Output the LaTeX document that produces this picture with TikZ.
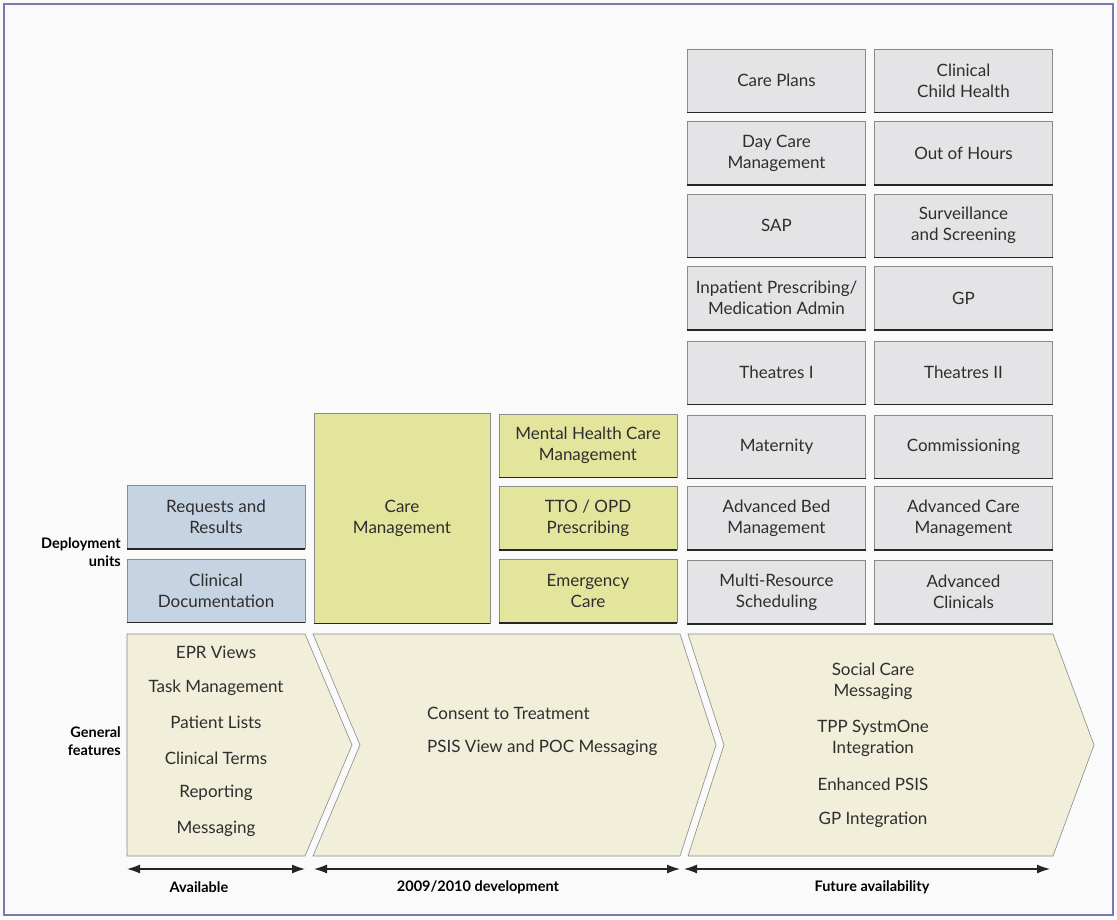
\documentclass[tikz,border=0pt]{standalone}
\usepackage{fontspec}
\setmainfont{Lato}
\usetikzlibrary{arrows.meta}
\definecolor{pagebg}{HTML}{FAFAFA}
\definecolor{framecol}{HTML}{7A78B0}
\definecolor{greyfill}{HTML}{E4E4E6}
\definecolor{bluefill}{HTML}{C6D3E3}
\definecolor{yellowfill}{HTML}{E3E59C}
\definecolor{creamfill}{HTML}{F1EEDA}
\definecolor{edgecol}{HTML}{8A8A8A}
\definecolor{inkcol}{HTML}{2E2E2E}
\begin{document}
\begin{tikzpicture}[x=1pt,y=-1pt,
  unitbox/.style={draw=edgecol, line width=0.7pt, minimum width=178pt, minimum height=63pt,
    inner sep=0pt, align=center, font=\fontsize{17}{21}\selectfont, text=inkcol},
  greybox/.style={unitbox, fill=greyfill},
  bluebox/.style={unitbox, fill=bluefill},
  yellowbox/.style={unitbox, fill=yellowfill},
  bottomedge/.style={draw=black!85, line width=1.6pt},
  chevron/.style={draw=edgecol, line width=0.6pt, fill=creamfill, line join=miter},
  feature/.style={font=\fontsize{17}{21}\selectfont, text=inkcol, align=center, inner sep=0pt},
  sidelabel/.style={font=\bfseries\fontsize{14.5}{18}\selectfont, align=right, anchor=east, inner sep=0pt},
  phaselabel/.style={font=\bfseries\fontsize{14.5}{16}\selectfont, inner sep=0pt},
  span/.style={{Latex[length=13pt,width=9pt]}-{Latex[length=13pt,width=9pt]}, line width=1.2pt, draw=black!85}
]
% page and frame
\fill[pagebg] (0,0) rectangle (1117,919);
\draw[framecol, line width=1.5pt] (4,4) rectangle (1113,915);

% future deployment units (grey grid)
\node[greybox] (careplans) at (776.5,80.5)  {Care Plans};
\node[greybox] (childhealth) at (963.5,80.5) {Clinical\\Child Health};
\node[greybox] (daycare) at (776.5,153)   {Day Care\\Management};
\node[greybox] (outofhours) at (963.5,153) {Out of Hours};
\node[greybox] (sap) at (776.5,225.5)      {SAP};
\node[greybox] (surveillance) at (963.5,225.5) {Surveillance\\and Screening};
\node[greybox] (inpatient) at (776.5,298)  {Inpatient Prescribing/\\Medication Admin};
\node[greybox] (gp) at (963.5,298)         {GP};
\node[greybox] (theatresone) at (776.5,372.5) {Theatres I};
\node[greybox] (theatrestwo) at (963.5,372.5) {Theatres II};
\node[greybox] (maternity) at (776.5,446.5) {Maternity};
\node[greybox] (commissioning) at (963.5,446.5) {Commissioning};
\node[greybox] (bedmgmt) at (776.5,518)   {Advanced Bed\\Management};
\node[greybox] (caremgmtadv) at (963.5,518) {Advanced Care\\Management};
\node[greybox] (multires) at (776.5,592)  {Multi-Resource\\Scheduling};
\node[greybox] (advclinicals) at (963.5,592) {Advanced\\Clinicals};

% 2009/2010 deployment units (yellow)
\node[yellowbox, minimum width=176pt, minimum height=210pt] (caremgmt) at (402,518) {Care\\Management};
\node[yellowbox] (mentalhealth) at (588,445.5) {Mental Health Care\\Management};
\node[yellowbox] (tto) at (588,518)        {TTO / OPD\\Prescribing};
\node[yellowbox] (emergency) at (588,591)  {Emergency\\Care};

% available deployment units (blue)
\node[bluebox] (requests) at (216,517)     {Requests and\\Results};
\node[bluebox] (clindoc) at (216,590.5)    {Clinical\\Documentation};

% darker lower edge of every unit box
\foreach \n in {careplans,childhealth,daycare,outofhours,sap,surveillance,inpatient,gp,
  theatresone,theatrestwo,maternity,commissioning,bedmgmt,caremgmtadv,multires,advclinicals,
  caremgmt,mentalhealth,tto,emergency,requests,clindoc}
  \draw[bottomedge] (\n.south west) -- (\n.south east);

% general features (chevrons)
\draw[chevron] (127,634) -- (305,634) -- (352,745) -- (305,856) -- (127,856) -- cycle;
\draw[chevron] (313,634) -- (680,634) -- (716,745) -- (680,856) -- (313,856) -- (360,745) -- cycle;
\draw[chevron] (688,634) -- (1053,634) -- (1094,745) -- (1053,856) -- (688,856) -- (724,745) -- cycle;

\node[feature] (eprviews) at (216,652) {EPR Views};
\node[feature] (taskmgmt) at (216,688) {Task Management};
\node[feature] (patlists) at (216,722) {Patient Lists};
\node[feature] (clinterms) at (216,758) {Clinical Terms};
\node[feature] (reporting) at (216,793) {Reporting};
\node[feature] (messaging) at (216,829) {Messaging};

\node[feature, anchor=west] (consent) at (427,713) {Consent to Treatment};
\node[feature, anchor=west] (psis) at (427,748) {PSIS View and POC Messaging};

\node[feature] (socialcare) at (873,681) {Social Care\\Messaging};
\node[feature] (tpp) at (873,738) {TPP SystmOne\\Integration};
\node[feature] (enhpsis) at (873,784) {Enhanced PSIS};
\node[feature] (gpint) at (873,820) {GP Integration};

% row labels
\node[sidelabel] (deploy) at (121,552) {Deployment\\units};
\node[sidelabel] (general) at (121,741) {General\\features};

% timeline spans
\coordinate (availA) at (127,869);
\coordinate (availB) at (305,869);
\coordinate (devA) at (314,869);
\coordinate (devB) at (680,869);
\coordinate (futA) at (684,869);
\coordinate (futB) at (1050,869);
\draw[span] (availA) -- (availB);
\draw[span] (devA) -- (devB);
\draw[span] (futA) -- (futB);
\node[phaselabel] (available) at (199,887) {Available};
\node[phaselabel] (development) at (478,887) {2009/2010 development};
\node[phaselabel] (future) at (872,887) {Future availability};
\end{tikzpicture}
\end{document}
